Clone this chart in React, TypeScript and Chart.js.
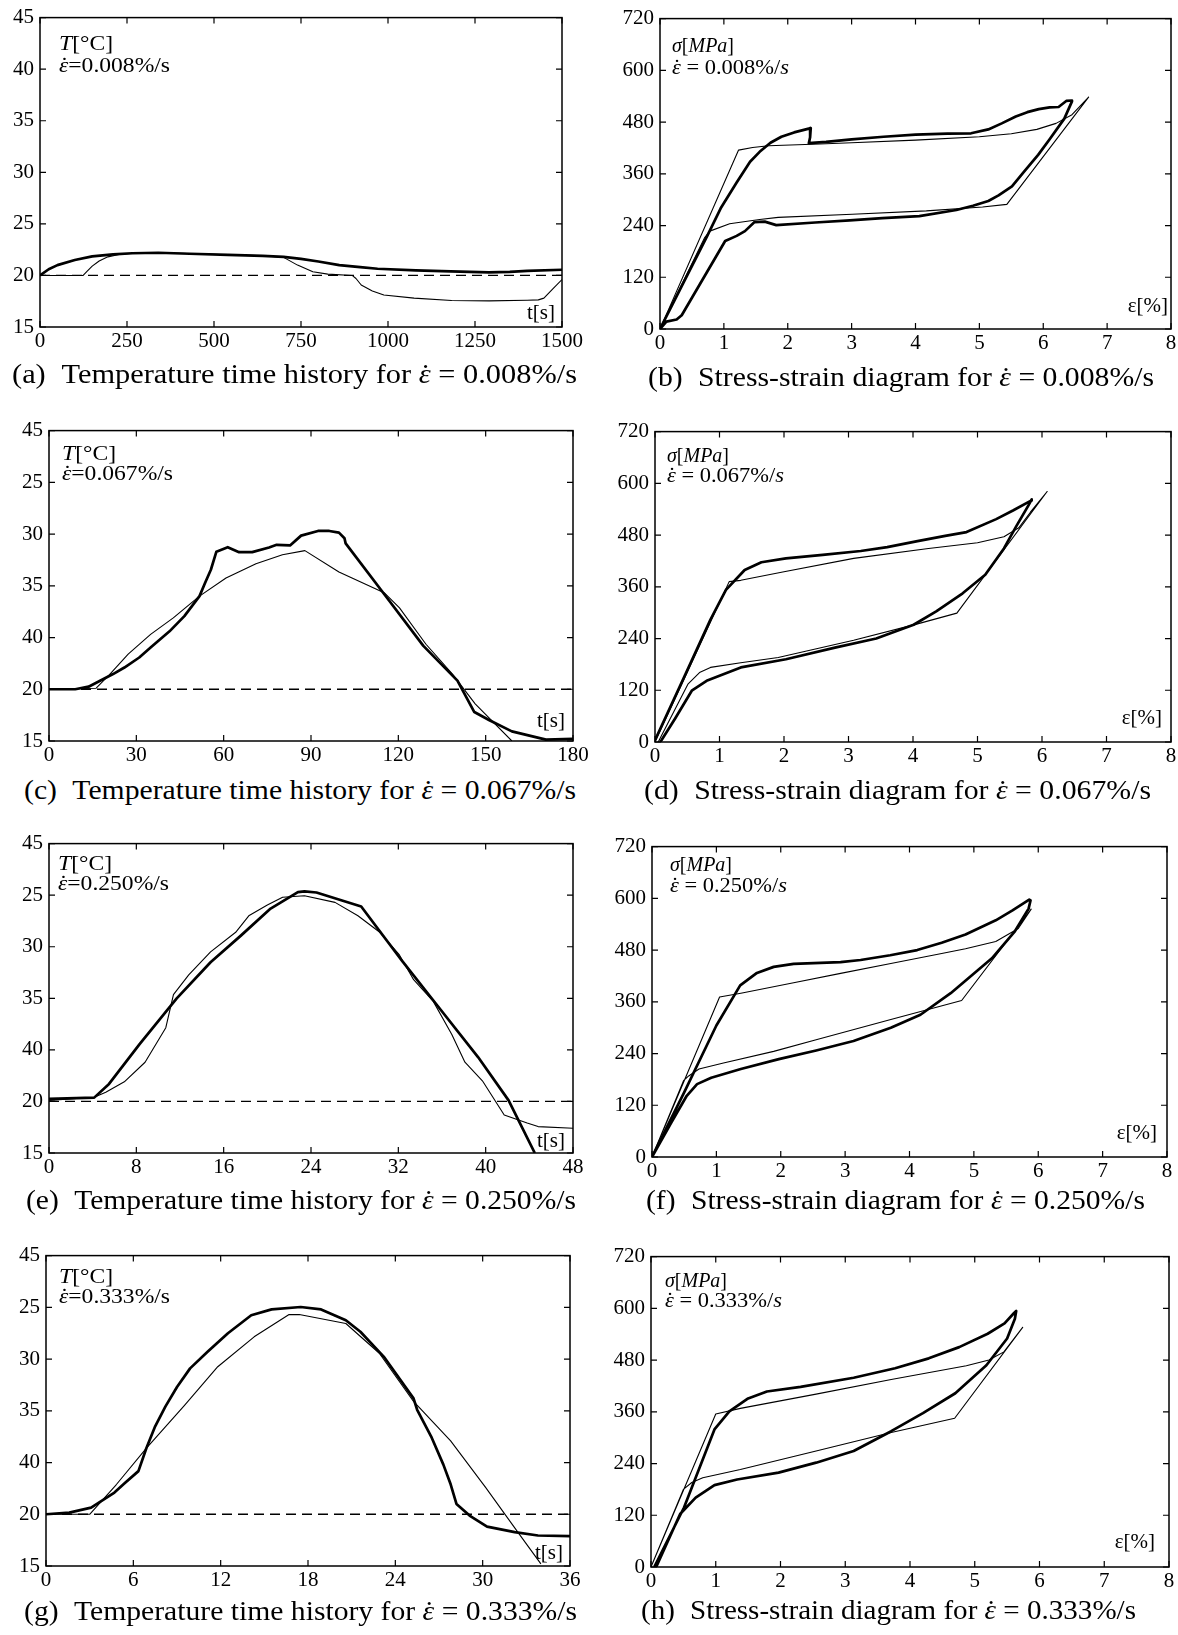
import React, { useEffect, useLayoutEffect, useRef } from "react";
import { Chart, registerables } from "chart.js";
Chart.register(...registerables);

const FONT = "Liberation Serif, DejaVu Serif, serif";
Chart.defaults.font.family = FONT;
Chart.defaults.font.size = 21;
Chart.defaults.color = "#000";

// ---------- tick labels ----------
const TEMP_TICKS_A = ["15", "20", "25", "30", "35", "40", "45"];
const TEMP_TICKS = ["15", "20", "40", "35", "30", "25", "45"];
const REF_TEMP = 20;

// ---------- (a) eps_dot = 0.008 %/s ----------
const A_EXP_T = [0, 25, 50, 100, 150, 210, 265, 340, 430, 540, 640, 700, 750, 800, 860, 920, 970, 1080, 1180, 1290, 1350, 1400, 1500];
const A_EXP_V = [20.0, 20.6, 21.0, 21.5, 21.85, 22.05, 22.15, 22.2, 22.1, 22.0, 21.9, 21.8, 21.6, 21.35, 21.0, 20.8, 20.65, 20.5, 20.4, 20.3, 20.35, 20.45, 20.55];
const A_MOD_T = [0, 124, 135, 150, 170, 195, 230, 290, 400, 540, 650, 700, 740, 784, 827, 897, 908, 923, 955, 988, 1075, 1183, 1291, 1400, 1432, 1448, 1475, 1500];
const A_MOD_V = [20.0, 20.0, 20.4, 20.9, 21.4, 21.8, 22.05, 22.2, 22.15, 22.0, 21.9, 21.75, 21.0, 20.35, 20.13, 20.0, 19.7, 19.07, 18.5, 18.1, 17.8, 17.57, 17.53, 17.6, 17.63, 17.8, 18.75, 19.6];

// ---------- (c) 0.067 %/s ----------
const C_EXP_T = [0, 9, 13.6, 22, 25.9, 31, 34.9, 41.4, 46.5, 51.7, 53.6, 55.6, 57.5, 61.4, 65.3, 69.8, 75.6, 78.2, 82.8, 86.6, 92.4, 96.3, 99.6, 101.5, 101.9, 114.4, 128.6, 140.3, 146.1, 151.3, 159, 170.7, 180];
const C_EXP_V = [20.0, 20.0, 20.25, 21.47, 22.1, 23.07, 24.03, 25.6, 27.07, 29.0, 30.27, 31.55, 33.3, 33.73, 33.25, 33.25, 33.7, 33.96, 33.9, 34.85, 35.3, 35.3, 35.14, 34.6, 34.1, 29.47, 24.19, 20.83, 17.8, 17.0, 15.93, 15.13, 15.2];
const C_MOD_T = [0, 16.2, 20.7, 27.2, 34.9, 42.7, 51.7, 60.8, 71.1, 80.2, 87.9, 99.6, 115.3, 120.4, 129.5, 138.6, 146.4, 159];
const C_MOD_V = [20.0, 20.1, 21.4, 23.4, 25.3, 26.9, 29.0, 30.75, 32.13, 33.0, 33.4, 31.33, 29.3, 27.87, 24.35, 21.47, 18.59, 15.0];

// ---------- (e) 0.250 %/s ----------
const E_EXP_T = [0, 4.14, 5.5, 8.3, 11.7, 14.8, 17.6, 20.3, 22.8, 23.4, 24.5, 28.6, 32.4, 35.5, 39.3, 42.1, 44.5];
const E_EXP_V = [20.24, 20.37, 21.7, 25.55, 30.0, 33.5, 36.1, 38.7, 40.3, 40.36, 40.26, 38.9, 33.55, 29.4, 24.3, 20.1, 15.0];
const E_MOD_T = [0, 4.14, 5.2, 6.9, 8.8, 10.7, 11.4, 12.8, 14.8, 17.1, 18.3, 20.0, 21.4, 23.4, 26.2, 28.3, 30.3, 32.1, 33.4, 35.2, 36.9, 38.1, 39.7, 41.7, 43.8, 44.8, 48];
const E_MOD_V = [20.1, 20.4, 20.9, 21.9, 23.8, 27.15, 30.35, 32.27, 34.5, 36.4, 38.0, 39.05, 39.8, 39.94, 39.3, 38.0, 36.4, 34.2, 31.8, 29.7, 26.5, 23.8, 22.0, 18.68, 17.9, 17.56, 17.4];

// ---------- (g) 0.333 %/s ----------
const G_EXP_T = [0, 1.6, 3.1, 4.7, 5.4, 6.35, 6.9, 7.5, 8.2, 9.0, 9.9, 11.1, 12.5, 14.1, 15.5, 17.5, 18.9, 20.6, 21.6, 23.2, 25.25, 25.5, 26.5, 27.3, 27.8, 28.2, 29.1, 30.3, 32.2, 33.8, 36];
const G_EXP_V = [20.0, 20.16, 20.64, 22.1, 23.0, 24.17, 26.4, 28.5, 30.4, 32.3, 34.1, 35.7, 37.5, 39.24, 39.8, 40.03, 39.8, 38.75, 37.64, 35.24, 31.2, 30.1, 27.4, 24.8, 22.9, 21.0, 19.87, 18.8, 18.27, 17.95, 17.88];
const G_MOD_T = [0, 3.0, 4.85, 6.9, 9.5, 11.8, 14.3, 16.7, 17.4, 20.6, 22.9, 25.25, 27.8, 30.2, 32.5, 34.0];
const G_MOD_V = [20.0, 20.0, 22.9, 26.4, 30.5, 34.26, 37.15, 39.3, 39.3, 38.44, 35.56, 30.9, 27.1, 22.6, 18.1, 15.2];

// ---------- (b) stress-strain 0.008 %/s ----------
const B_EXP_E = [0, 0.36, 0.73, 0.95, 1.2, 1.41, 1.56, 1.73, 1.9, 2.1, 2.36, 2.35, 2.33, 2.6, 3.0, 3.5, 4.0, 4.5, 4.87, 5.14, 5.35, 5.57, 5.75, 5.93, 6.1, 6.24, 6.36, 6.45, 6.45, 6.33, 6.1, 5.92, 5.7, 5.51, 5.3, 5.14, 4.9, 4.64, 4.06, 3.48, 2.97, 2.43, 1.82, 1.64, 1.48, 1.33, 1.2, 1.02, 0.34, 0.26, 0.1, 0];
const B_EXP_S = [0, 105, 213, 280, 340, 388, 411, 432, 446, 456, 466, 445, 431, 434, 440, 446, 451, 453, 454, 463, 477, 493, 503, 510, 514, 515, 529, 530, 528, 488, 440, 404, 365, 331, 310, 297, 286, 276, 262, 257, 252, 247, 241, 249, 248, 227, 216, 204, 32, 22, 17, 0];
const B_MOD_E = [0, 1.23, 1.45, 1.7, 2.5, 3.0, 4.0, 5.0, 5.5, 5.9, 6.2, 6.45, 6.71, 5.43, 5.05, 4.17, 3.01, 1.85, 1.56, 1.09, 0.78, 0.7, 0];
const B_MOD_S = [0, 415, 421, 425, 429, 432, 438, 446, 453, 463, 477, 497, 538, 289, 283, 274, 266, 259, 254, 244, 227, 212, 0];

// ---------- (d) 0.067 %/s ----------
const D_EXP_E = [0, 0.45, 0.86, 1.1, 1.39, 1.65, 2.03, 2.6, 3.19, 3.6, 4.07, 4.5, 4.83, 5.29, 5.55, 5.83, 5.84, 5.79, 5.6, 5.41, 5.12, 4.77, 4.36, 4.01, 3.43, 2.79, 2.03, 1.33, 0.8, 0.57, 0.31, 0.1, 0.08];
const D_EXP_S = [4, 150, 284, 353, 399, 417, 426, 434, 443, 452, 466, 478, 487, 517, 537, 560, 563, 549, 500, 449, 388, 345, 303, 272, 240, 219, 192, 173, 142, 119, 54, 4, 0];
const D_MOD_E = [0, 1.15, 1.33, 2.0, 3.08, 4.24, 5.0, 5.41, 5.64, 5.82, 6.08, 4.68, 4.07, 3.08, 1.91, 1.33, 0.86, 0.69, 0.51, 0.05];
const D_MOD_S = [0, 372, 375, 395, 426, 449, 462, 476, 497, 533, 581, 299, 274, 236, 196, 184, 173, 161, 134, 0];

// ---------- (f) 0.250 %/s ----------
const F_EXP_E = [0, 0.5, 1.0, 1.37, 1.63, 1.89, 2.2, 2.93, 3.24, 3.7, 4.12, 4.5, 4.87, 5.34, 5.6, 5.86, 5.88, 5.85, 5.63, 5.28, 4.64, 4.17, 3.71, 3.13, 2.55, 1.97, 1.38, 0.92, 0.7, 0.54, 0.3, 0];
const F_EXP_S = [0, 150, 305, 398, 427, 441, 448, 452, 457, 468, 480, 497, 516, 549, 572, 597, 595, 576, 522, 461, 380, 330, 300, 269, 247, 227, 204, 184, 169, 142, 80, 0];
const F_MOD_E = [0, 1.05, 1.38, 2.2, 2.93, 3.71, 4.5, 4.87, 5.34, 5.69, 5.89, 4.81, 3.71, 2.55, 1.89, 1.11, 0.73, 0.57, 0.49, 0];
const F_MOD_S = [0, 371, 380, 404, 426, 449, 472, 483, 500, 530, 575, 363, 319, 272, 245, 218, 204, 188, 177, 0];

// ---------- (h) 0.333 %/s ----------
const H_EXP_E = [0.05, 0.51, 0.98, 1.21, 1.5, 1.79, 2.31, 3.13, 3.77, 4.29, 4.76, 5.2, 5.46, 5.6, 5.64, 5.62, 5.5, 5.18, 4.7, 4.2, 3.71, 3.13, 2.55, 1.97, 1.33, 0.98, 0.69, 0.45, 0.08];
const H_EXP_S = [0, 138, 319, 361, 391, 407, 418, 439, 461, 484, 510, 541, 565, 588, 594, 576, 530, 468, 403, 357, 315, 269, 242, 219, 203, 190, 161, 123, 0];
const H_MOD_E = [0, 1.0, 1.38, 2.55, 3.71, 4.87, 5.22, 5.45, 5.74, 4.69, 3.71, 2.55, 1.38, 0.8, 0.63, 0.5, 0];
const H_MOD_S = [0, 355, 368, 401, 435, 467, 480, 499, 556, 345, 312, 269, 226, 207, 196, 180, 0];

// ---------- layout helpers ----------
type Rect = { L: number; T: number; R: number; B: number };
type Series = { xs: number[]; ys: number[]; kind: "thick" | "thin" | "dash" };

const framePlugin = {
  id: "frame",
  afterDraw(chart: any) {
    const { ctx, chartArea } = chart;
    const { left, right, top, bottom } = chartArea;
    const xs = chart.scales.x;
    const ys = chart.scales.y;
    ctx.save();
    ctx.strokeStyle = "#000";
    ctx.lineWidth = 1.5;
    ctx.strokeRect(left, top, right - left, bottom - top);
    ctx.lineWidth = 1.2;
    ctx.beginPath();
    const TL = 6;
    xs.ticks.forEach((t: any) => {
      const p = xs.getPixelForValue(t.value);
      ctx.moveTo(p, bottom);
      ctx.lineTo(p, bottom - TL);
      ctx.moveTo(p, top);
      ctx.lineTo(p, top + TL);
    });
    ys.ticks.forEach((t: any) => {
      const p = ys.getPixelForValue(t.value);
      ctx.moveTo(left, p);
      ctx.lineTo(left + TL, p);
      ctx.moveTo(right, p);
      ctx.lineTo(right - TL, p);
    });
    ctx.stroke();
    ctx.restore();
  },
};

const LM = 50, TM = 16, RM = 30, BM = 34;

function PanelChart(props: {
  rect: Rect; xMax: number; xStep: number; yMin: number; yMax: number; yStep: number;
  yLabels?: string[]; series: Series[];
}) {
  const ref = useRef<HTMLCanvasElement>(null);
  const { rect } = props;
  const w = rect.R - rect.L + LM + RM;
  const h = rect.B - rect.T + TM + BM;
  useEffect(() => {
    if (!ref.current) return;
    const tickFont = { family: FONT, size: 21, style: "normal" as const, weight: "normal" as const };
    const chart = new Chart(ref.current, {
      type: "scatter",
      data: {
        datasets: props.series.map((s) => ({
          data: s.xs.map((x, i) => ({ x, y: s.ys[i] })),
          showLine: true,
          borderColor: "#000",
          backgroundColor: "#000",
          borderWidth: s.kind === "thick" ? 2.7 : s.kind === "thin" ? 1.1 : 1.3,
          borderDash: s.kind === "dash" ? [10, 6] : [],
          pointRadius: 0,
          tension: 0,
          fill: false,
          borderJoinStyle: "round",
        })),
      },
      options: {
        responsive: false,
        animation: false,
        events: [],
        font: tickFont,
        layout: { padding: { left: 0, top: TM, right: RM, bottom: 0 } },
        plugins: { legend: { display: false }, tooltip: { enabled: false } },
        scales: {
          x: {
            type: "linear",
            min: 0,
            max: props.xMax,
            ticks: {
              stepSize: props.xStep,
              font: tickFont,
              color: "#000",
              padding: 2,
              maxRotation: 0,
              autoSkip: false,
              callback: (v: any) => String(v),
            },
            grid: { display: false, drawTicks: false },
            border: { display: false },
            afterFit: (s: any) => { s.height = BM; },
          },
          y: {
            type: "linear",
            min: props.yMin,
            max: props.yMax,
            ticks: {
              stepSize: props.yStep,
              font: tickFont,
              color: "#000",
              padding: 6,
              autoSkip: false,
              callback: (v: any, i: number) => (props.yLabels ? props.yLabels[i] : String(v)),
            },
            grid: { display: false, drawTicks: false },
            border: { display: false },
            afterFit: (s: any) => { s.width = LM; },
          },
        },
      } as any,
      plugins: [framePlugin],
    });
    return () => chart.destroy();
  }, []);
  return (
    <canvas
      ref={ref}
      width={w}
      height={h}
      style={{ position: "absolute", left: rect.L - LM, top: rect.T - TM, width: w, height: h }}
    />
  );
}

function FitText(props: { x: number; baseline: number; size: number; width?: number; children: any }) {
  const ref = useRef<HTMLDivElement>(null);
  useLayoutEffect(() => {
    const el = ref.current;
    if (!el || !props.width) return;
    el.style.transform = "none";
    const w = el.getBoundingClientRect().width;
    if (w > 0) el.style.transform = `scaleX(${props.width / w})`;
  }, []);
  return (
    <div
      ref={ref}
      style={{
        position: "absolute",
        left: props.x,
        top: props.baseline - 0.8375 * props.size,
        fontSize: props.size,
        lineHeight: `${props.size}px`,
        whiteSpace: "nowrap",
        transformOrigin: "0 0",
        fontFamily: FONT,
        color: "#000",
      }}
    >
      {props.children}
    </div>
  );
}

function RightText(props: { right: number; baseline: number; size: number; children: any }) {
  return (
    <div
      style={{
        position: "absolute",
        right: 1178 - props.right,
        top: props.baseline - 0.8375 * props.size,
        fontSize: props.size,
        lineHeight: `${props.size}px`,
        whiteSpace: "nowrap",
        fontFamily: FONT,
        color: "#000",
      }}
    >
      {props.children}
    </div>
  );
}

function EpsDot() {
  return (
    <span style={{ position: "relative", display: "inline-block", fontStyle: "italic" }}>
      ε
      <span style={{ position: "absolute", left: "0.06em", top: "-0.02em", fontStyle: "normal" }}>˙</span>
    </span>
  );
}

type TempPanel = {
  rect: Rect; xMax: number; xStep: number; yLabels: string[]; rate: string;
  exp: [number[], number[]]; mod: [number[], number[]];
  ann: [number, number, number]; lab: [number, number];
  cap: [number, number, number]; letter: string;
};
type StressPanel = {
  rect: Rect; rate: string; exp: [number[], number[]]; mod: [number[], number[]];
  ann: [number, number, number]; lab: [number, number];
  cap: [number, number, number]; letter: string;
};

const TEMP_PANELS: TempPanel[] = [
  { rect: { L: 40, T: 15, R: 562, B: 327 }, xMax: 1500, xStep: 250, yLabels: TEMP_TICKS_A, rate: "0.008",
    exp: [A_EXP_T, A_EXP_V], mod: [A_MOD_T, A_MOD_V], ann: [19, 35, 57], lab: [7, 7], cap: [12, 384, 565], letter: "a" },
  { rect: { L: 49, T: 428, R: 573, B: 741 }, xMax: 180, xStep: 30, yLabels: TEMP_TICKS, rate: "0.067",
    exp: [C_EXP_T, C_EXP_V], mod: [C_MOD_T, C_MOD_V], ann: [13, 32, 52], lab: [8, 13], cap: [24, 800, 552], letter: "c" },
  { rect: { L: 49, T: 841, R: 573, B: 1153 }, xMax: 48, xStep: 8, yLabels: TEMP_TICKS, rate: "0.250",
    exp: [E_EXP_T, E_EXP_V], mod: [E_MOD_T, E_MOD_V], ann: [9, 29, 49], lab: [8, 5], cap: [26, 1210, 550], letter: "e" },
  { rect: { L: 46, T: 1253, R: 570, B: 1566 }, xMax: 36, xStep: 6, yLabels: TEMP_TICKS, rate: "0.333",
    exp: [G_EXP_T, G_EXP_V], mod: [G_MOD_T, G_MOD_V], ann: [13, 30, 50], lab: [7, 6], cap: [24, 1621, 553], letter: "g" },
];

const STRESS_PANELS: StressPanel[] = [
  { rect: { L: 660, T: 16, R: 1171, B: 329 }, rate: "0.008", exp: [B_EXP_E, B_EXP_S], mod: [B_MOD_E, B_MOD_S],
    ann: [12, 36, 58], lab: [3, 16], cap: [648, 387, 506], letter: "b" },
  { rect: { L: 655, T: 429, R: 1171, B: 742 }, rate: "0.067", exp: [D_EXP_E, D_EXP_S], mod: [D_MOD_E, D_MOD_S],
    ann: [12, 33, 53], lab: [9, 17], cap: [644, 800, 507], letter: "d" },
  { rect: { L: 652, T: 844, R: 1167, B: 1157 }, rate: "0.250", exp: [F_EXP_E, F_EXP_S], mod: [F_MOD_E, F_MOD_S],
    ann: [18, 27, 48], lab: [10, 17], cap: [646, 1210, 499], letter: "f" },
  { rect: { L: 651, T: 1254, R: 1169, B: 1567 }, rate: "0.333", exp: [H_EXP_E, H_EXP_S], mod: [H_MOD_E, H_MOD_S],
    ann: [14, 33, 53], lab: [14, 18], cap: [641, 1620, 495], letter: "h" },
];

export default function App() {
  return (
    <div style={{ position: "absolute", left: 0, top: 0, width: 1178, height: 1635, overflow: "hidden", background: "#fff" }}>
      {TEMP_PANELS.map((p) => (
        <React.Fragment key={p.letter}>
          <PanelChart
            rect={p.rect}
            xMax={p.xMax}
            xStep={p.xStep}
            yMin={15}
            yMax={45}
            yStep={5}
            yLabels={p.yLabels}
            series={[
              { xs: [0, p.xMax], ys: [REF_TEMP, REF_TEMP], kind: "dash" },
              { xs: p.mod[0], ys: p.mod[1], kind: "thin" },
              { xs: p.exp[0], ys: p.exp[1], kind: "thick" },
            ]}
          />
          <FitText x={p.rect.L + p.ann[0]} baseline={p.rect.T + p.ann[1]} size={22} width={54}>
            <i>T</i>[°C]
          </FitText>
          <FitText x={p.rect.L + p.ann[0]} baseline={p.rect.T + p.ann[2]} size={20} width={111}>
            <EpsDot />={p.rate}%/s
          </FitText>
          <RightText right={p.rect.R - p.lab[0]} baseline={p.rect.B - p.lab[1]} size={21}>
            t[s]
          </RightText>
          <FitText x={p.cap[0]} baseline={p.cap[1]} size={27} width={p.cap[2]}>
            ({p.letter})<span style={{ display: "inline-block", width: 14 }} />Temperature time history for <EpsDot /> = {p.rate}%/s
          </FitText>
        </React.Fragment>
      ))}
      {STRESS_PANELS.map((p) => (
        <React.Fragment key={p.letter}>
          <PanelChart
            rect={p.rect}
            xMax={8}
            xStep={1}
            yMin={0}
            yMax={720}
            yStep={120}
            series={[
              { xs: p.mod[0], ys: p.mod[1], kind: "thin" },
              { xs: p.exp[0], ys: p.exp[1], kind: "thick" },
            ]}
          />
          <FitText x={p.rect.L + p.ann[0]} baseline={p.rect.T + p.ann[1]} size={22} width={62}>
            <i>σ</i>[<i>MPa</i>]
          </FitText>
          <FitText x={p.rect.L + p.ann[0]} baseline={p.rect.T + p.ann[2]} size={20} width={117}>
            <EpsDot /> = {p.rate}%/<i>s</i>
          </FitText>
          <RightText right={p.rect.R - p.lab[0]} baseline={p.rect.B - p.lab[1]} size={21}>
            ε[%]
          </RightText>
          <FitText x={p.cap[0]} baseline={p.cap[1]} size={27} width={p.cap[2]}>
            ({p.letter})<span style={{ display: "inline-block", width: 14 }} />Stress-strain diagram for <EpsDot /> = {p.rate}%/s
          </FitText>
        </React.Fragment>
      ))}
    </div>
  );
}
